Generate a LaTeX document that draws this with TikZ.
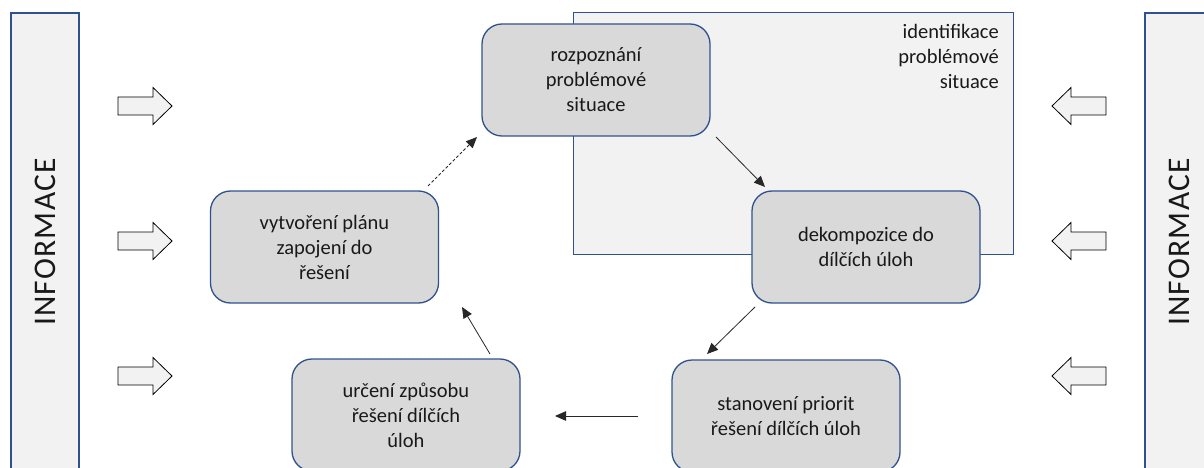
\documentclass[tikz,border=0pt]{standalone}
\usepackage{fontspec}
\setmainfont{Carlito}
\usetikzlibrary{arrows.meta,calc}
\definecolor{bordblue}{RGB}{47,82,143}
\definecolor{barfill}{RGB}{242,242,242}
\definecolor{boxfill}{RGB}{217,217,217}
\definecolor{txt}{RGB}{25,25,25}
\definecolor{lineg}{RGB}{40,40,40}
\begin{document}
\begin{tikzpicture}[x=1pt,y=-1pt,
  stepbox/.style={draw=bordblue, line width=1.3pt, fill=boxfill, rounded corners=20pt,
    minimum width=228pt, minimum height=112pt, inner sep=0pt, align=center,
    font=\fontsize{20.5}{25}\selectfont, text=txt},
  bar/.style={draw=bordblue, line width=1.2pt, fill=barfill, inner sep=0pt},
  infolabel/.style={font=\fontsize{31.5}{32}\selectfont\addfontfeature{LetterSpace=4}, text=txt},
  conn/.style={draw=lineg, line width=0.8pt, -{Triangle[length=11pt,width=9.5pt]}},
  pics/blockarrow/.style={code={\draw[black, line width=0.8pt, fill=barfill]
    (0,-9) -- (35,-9) -- (35,-18.5) -- (54,0) -- (35,18.5) -- (35,9) -- (0,9) -- cycle;}}
]
\clip (0,0) rectangle (1204,468);
\fill[white] (0,0) rectangle (1204,468);

% side bars
\node[bar, rotate=90, minimum width=458pt, minimum height=68pt] (infL) at (45,242) {};
\node[infolabel, rotate=90] (infLlbl) at (infL.center) {INFORMACE};
\node[bar, rotate=90, minimum width=458pt, minimum height=68pt] (infR) at (1179,242) {};
\node[infolabel, rotate=90] (infRlbl) at (infR.center) {INFORMACE};

% block arrows
\pic at (118,106) {blockarrow};
\pic at (118,241) {blockarrow};
\pic at (118,376) {blockarrow};
\pic[xscale=-1] at (1106,106) {blockarrow};
\pic[xscale=-1] at (1106,241) {blockarrow};
\pic[xscale=-1] at (1106,376) {blockarrow};

% identification area
\node[bar, line width=1pt, anchor=north west, minimum width=440pt, minimum height=242pt] (ident) at (573,12) {};
\node[anchor=north east, inner sep=0pt, align=right, font=\fontsize{20.5}{25}\selectfont, text=txt] (identlbl) at (999,24.5) {identifikace\\problémové\\situace};

% steps
\node[stepbox] (roz) at (596,80) {rozpoznání\\problémové\\situace};
\node[stepbox] (dek) at (866,247) {dekompozice do\\dílčích úloh};
\node[stepbox] (sta) at (786,416) {stanovení priorit\\řešení dílčích úloh};
\node[stepbox] (urc) at (406,415) {určení způsobu\\řešení dílčích\\úloh};
\node[stepbox] (vyt) at (324.5,247) {vytvoření plánu\\zapojení do\\řešení};

% connector end points
\coordinate (c1s) at (428,186);
\coordinate (c1e) at (477,137);
\coordinate (c2s) at (716,137);
\coordinate (c2e) at (765,187);
\coordinate (c3s) at (755,307);
\coordinate (c3e) at (707,354);
\coordinate (c4s) at (638,416);
\coordinate (c4e) at (555,416);
\coordinate (c5s) at (490,354);
\coordinate (c5e) at (462,307);

\draw[conn, dash pattern=on 3pt off 2pt] (c1s) -- (c1e);
\draw[conn] (c2s) -- (c2e);
\draw[conn] (c3s) -- (c3e);
\draw[conn] (c4s) -- (c4e);
\draw[conn] (c5s) -- (c5e);
\end{tikzpicture}
\end{document}
